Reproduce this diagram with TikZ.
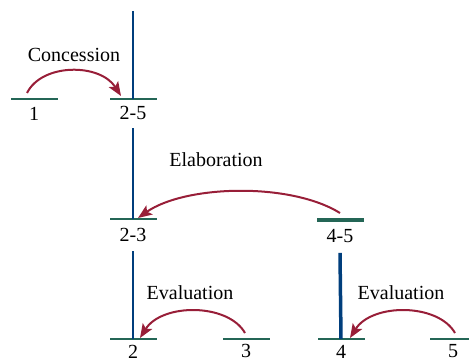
\documentclass[tikz,border=0pt]{standalone}
\usepackage{fontspec}
\setmainfont{Liberation Serif}
\usepackage{tikz}
\usetikzlibrary{arrows.meta, positioning}
\definecolor{barc}{RGB}{36,102,86}
\definecolor{spanc}{RGB}{0,62,124}
\definecolor{relc}{RGB}{152,30,56}

\begin{document}
\begin{tikzpicture}[x=1pt, y=-1pt,
  bar/.style={rectangle, fill=barc, inner sep=0pt,
              minimum width=47pt, minimum height=2.6pt},
  nucbar/.style={bar, minimum height=4pt},
  num/.style={inner sep=0pt, font=\fontsize{20}{22}\selectfont},
  relname/.style={inner sep=0pt, font=\fontsize{20}{22}\selectfont},
  span/.style={spanc, line width=2pt},
  nucspan/.style={spanc, line width=3.5pt},
  rel/.style={-{Stealth[length=14pt, width=11pt, inset=3pt]}, relc, line width=2pt},
]
\useasboundingbox (0,0) rectangle (469,363);

% Segmentos
\node[bar]    at (34,99)   (b1)  {};
\node[bar]    at (133,99)  (b25) {};
\node[bar]    at (133,219) (b23) {};
\node[nucbar] at (340,220) (b45) {};
\node[bar]    at (133,339) (b2)  {};
\node[bar]    at (246,339) (b3)  {};
\node[bar]    at (341,339) (b4)  {};
\node[bar]    at (453,339) (b5)  {};

% Etiquetas
\node[num, below=7pt of b1]  (l1)  {1};
\node[num, below=6pt of b25] (l25) {2-5};
\node[num, below=8pt of b23] (l23) {2-3};
\node[num, below=7pt of b45] (l45) {4-5};
\node[num, below=5pt of b2]  (l2)  {2};
\node[num, below=4pt of b3]  (l3)  {3};
\node[num, below=5pt of b4]  (l4)  {4};
\node[num, below=4pt of b5]  (l5)  {5};

% Lineas verticales
\coordinate (top) at (133,11);
\draw[span] (top) -- (b25.center);
\draw[span] ([yshift=-8pt]l25.south) -- (b23.center);
\draw[span] ([yshift=-9pt]l23.south) -- (b2.center);
\draw[nucspan] ([yshift=-10pt]l45.south) -- (b4.center);

% Relaciones
\node[relname] at (74,55)   (concession)  {Concession};
\node[relname] at (216,160) (elaboration) {Elaboration};
\node[relname] at (190,293) (evaluation1) {Evaluation};
\node[relname] at (401,293) (evaluation2) {Evaluation};

\draw[rel] ([shift={(-7,-6)}]b1.center) .. controls (42,63) and (100,63) .. ([shift={(-12,-3)}]b25.center);
\draw[rel] ([shift={(0,-7)}]b45.center) .. controls (290,182) and (185,185) .. ([shift={(5,-1)}]b23.center);
\draw[rel] ([shift={(-1,-6)}]b3.center) .. controls (228,303) and (162,303) .. ([shift={(7,-1)}]b2.center);
\draw[rel] ([shift={(2,-6)}]b5.center) .. controls (438,303) and (372,303) .. ([shift={(9,-1)}]b4.center);

\end{tikzpicture}
\end{document}
